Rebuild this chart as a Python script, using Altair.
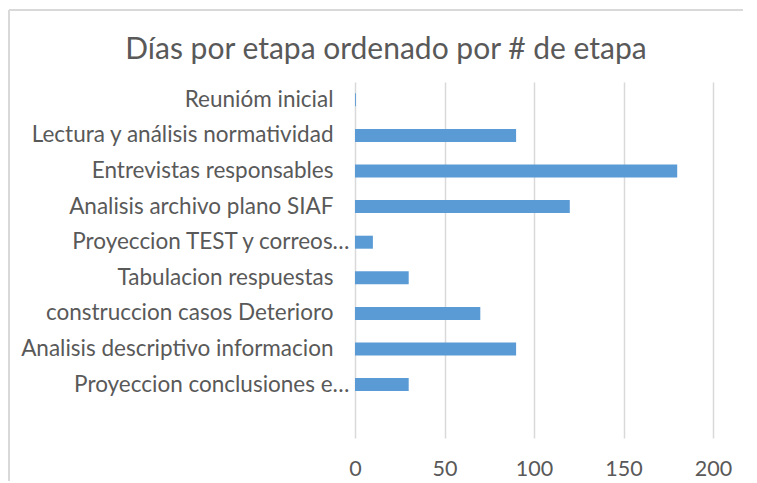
import altair as alt
import pandas as pd

categories = [
    "Reunióm inicial",
    "Lectura y análisis normatividad",
    "Entrevistas responsables",
    "Analisis archivo plano SIAF",
    "Proyeccion TEST y correos…",
    "Tabulacion respuestas",
    "construccion casos Deterioro",
    "Analisis descriptivo informacion",
    "Proyeccion conclusiones e…",
]
days = [0.5, 90, 180, 120, 10, 30, 70, 90, 30]
x_ticks = [0, 50, 100, 150, 200]

domain = categories + [" "]
df = pd.DataFrame({"etapa": categories, "dias": days})

FONT = "Lato"
GREY = "#595959"
GRID = "#D9D9D9"

bars = alt.Chart(df).mark_bar(size=13, color="#5B9BD5").encode(
    x=alt.X(
        "dias:Q",
        scale=alt.Scale(domain=[0, 200], nice=False, zero=True),
        axis=alt.Axis(
            values=x_ticks,
            title=None,
            domain=False,
            ticks=False,
            tickSize=0,
            grid=True,
            gridColor=GRID,
            gridWidth=1.5,
            labelFont=FONT,
            labelFontSize=21.5,
            labelColor=GREY,
            labelBaseline="middle",
            labelFlush=False,
            labelPadding=31,
        ),
    ),
    y=alt.Y(
        "etapa:N",
        sort=domain,
        scale=alt.Scale(domain=domain, paddingInner=0, paddingOuter=0),
        axis=alt.Axis(
            title=None,
            domain=False,
            ticks=False,
            tickSize=0,
            grid=False,
            labelFont=FONT,
            labelFontSize=22.5,
            labelColor=GREY,
            labelLimit=400,
            labelPadding={
                "condition": {"test": "indexof(datum.label, '…') >= 0", "value": 6},
                "value": 22,
            },
        ),
    ),
)

frame_data = alt.Data(values=[{"k": 1}])
top_border = alt.Chart(frame_data).mark_rule(color=GRID, strokeWidth=2).encode(
    x=alt.value(-346), x2=alt.value(400), y=alt.value(-72)
)
left_border = alt.Chart(frame_data).mark_rule(color=GRID, strokeWidth=2).encode(
    x=alt.value(-346), y=alt.value(-72), y2=alt.value(400)
)

chart = (
    alt.layer(bars, top_border, left_border)
    .properties(
        width=358,
        height=356,
        title=alt.TitleParams(
            "Días por etapa ordenado por # de etapa",
            font=FONT,
            fontSize=30,
            fontWeight="normal",
            color=GREY,
            anchor="middle",
            frame="group",
            baseline="alphabetic",
            dx=-148,
            dy=80,
            offset=0,
        ),
        padding={"left": 347, "top": 74, "right": 30, "bottom": 43},
        autosize=alt.AutoSizeParams(type="none"),
    )
    .configure_view(stroke=None)
)

chart.save("out.html", embed_options={"renderer": "svg", "actions": False})
